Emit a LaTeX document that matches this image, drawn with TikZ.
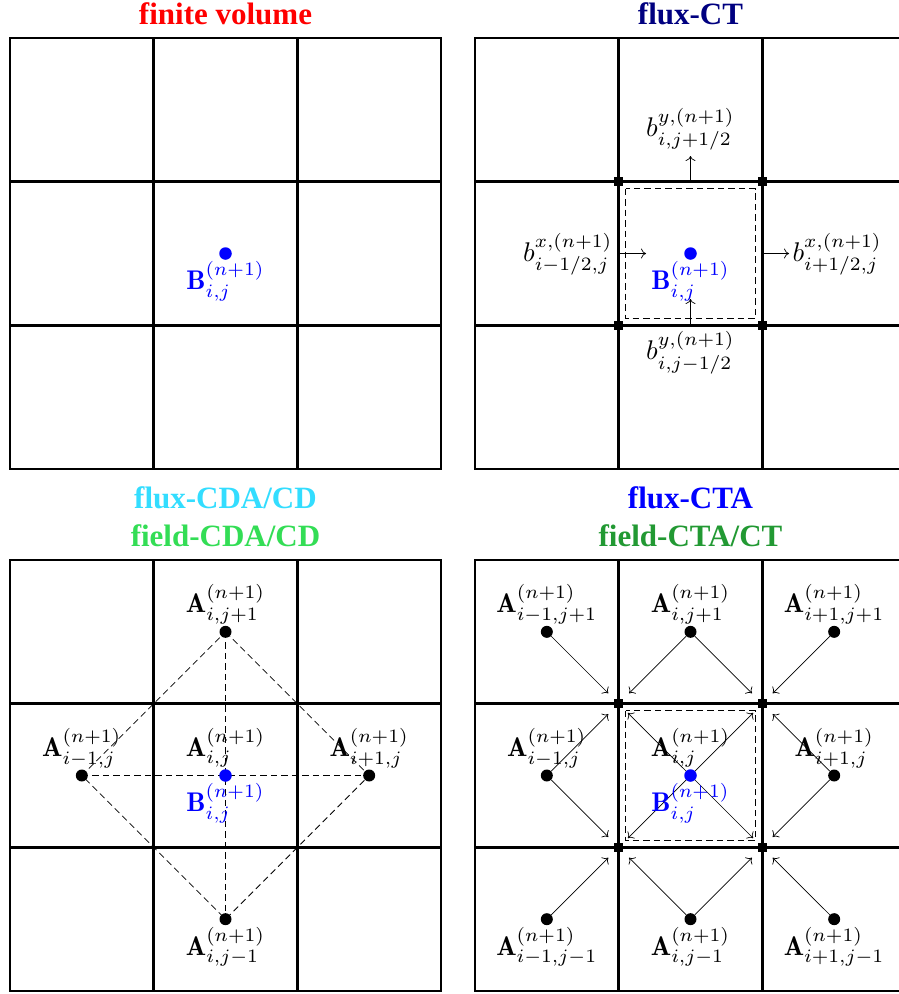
\documentclass[tikz,border=0pt]{standalone}
\usepackage{fontspec}
\newfontfamily\ttlfont{Liberation Serif}
\usetikzlibrary{arrows.meta}
\definecolor{navyc}{HTML}{000080}
\definecolor{cyanc}{HTML}{33DDFF}
\definecolor{lgreen}{HTML}{33DD55}
\definecolor{dgreen}{HTML}{229933}
\newcommand\pgrid[2]{%
  \draw[gridline] (#1,#2) rectangle ++(431,431);
  \foreach \k in {1,2}{%
    \draw[gridline] ({#1+\k*143.67},#2) -- ++(0,431);
    \draw[gridline] (#1,{#2+\k*143.67}) -- ++(431,0);
  }}
\begin{document}
\begin{tikzpicture}[x=1pt,y=-1pt,
  gridline/.style={line width=2.8pt},
  dot/.style={circle,fill=black,inner sep=0pt,minimum size=12pt},
  bdot/.style={circle,fill=blue,inner sep=0pt,minimum size=12.5pt},
  sq/.style={rectangle,fill=black,inner sep=0pt,minimum size=9pt},
  lab/.style={font=\normalsize,inner sep=0.4pt,scale=2.7,transform shape},
  arr/.style={-{To[length=5pt,width=10pt]},line width=0.7pt},
  dsh/.style={line width=0.8pt,dash pattern=on 6.5pt off 4pt},
  ttl/.style={font=\ttlfont\bfseries\fontsize{31}{37}\selectfont,inner sep=0pt,anchor=base}]
\useasboundingbox (0,0) rectangle (899,994);

% titles
\node[ttl,text=red] (t1) at (225.5,24) {finite volume};
\node[ttl,text=navyc] (t2) at (690.5,24) {flux-CT};
\node[ttl,text=cyanc] (t3) at (225.5,508) {flux-CDA/CD};
\node[ttl,text=lgreen] (t4) at (225.5,546) {field-CDA/CD};
\node[ttl,text=blue] (t5) at (690.5,508) {flux-CTA};
\node[ttl,text=dgreen] (t6) at (690.5,546) {field-CTA/CT};

% grids
\pgrid{10}{38}
\pgrid{475}{38}
\pgrid{10}{560}
\pgrid{475}{560}

% ---------- finite volume
\node[bdot] (tlB) at (225.5,253.5) {};
\node[lab,text=blue,anchor=north] (tlBl) at (tlB.south) {$\mathbf{B}^{(n+1)}_{i,j}$};

% ---------- flux-CT
\draw[dsh] (625.7,188.7) rectangle (755.3,318.3);
\node[sq] (trc1) at (618.67,181.67) {};
\node[sq] (trc2) at (762.33,181.67) {};
\node[sq] (trc3) at (618.67,325.33) {};
\node[sq] (trc4) at (762.33,325.33) {};
\node[bdot] (trB) at (690.5,253.5) {};
\node[lab,text=blue,anchor=north] (trBl) at (trB.south) {$\mathbf{B}^{(n+1)}_{i,j}$};
\coordinate (trN) at (690.5,181.67);
\coordinate (trNe) at (690.5,156);
\draw[arr] (trN) -- (trNe);
\node[lab,anchor=south] (trNl) at (690.5,152) {$b^{y,(n+1)}_{i,j+1/2}$};
\coordinate (trW) at (618.67,253.5);
\coordinate (trWe) at (646,253.5);
\draw[arr] (trW) -- (trWe);
\node[lab,anchor=east] (trWl) at (614,254) {$b^{x,(n+1)}_{i-1/2,j}$};
\coordinate (trE) at (762.33,253.5);
\coordinate (trEe) at (789,253.5);
\draw[arr] (trE) -- (trEe);
\node[lab,anchor=west] (trEl) at (791,254) {$b^{x,(n+1)}_{i+1/2,j}$};
\coordinate (trS) at (690.5,325.33);
\coordinate (trSe) at (690.5,299);
\draw[arr] (trS) -- (trSe);
\node[lab,anchor=north] (trSl) at (690.5,330) {$b^{y,(n+1)}_{i,j-1/2}$};

% ---------- flux-CDA / field-CDA
\coordinate (blTc) at (225.5,631.83);
\coordinate (blLc) at (81.83,775.5);
\coordinate (blRc) at (369.17,775.5);
\coordinate (blDc) at (225.5,919.17);
\draw[dsh] (blTc) -- (blRc) -- (blDc) -- (blLc) -- cycle;
\draw[dsh] (blLc) -- (blRc);
\draw[dsh] (blTc) -- (blDc);
\node[dot] (blT) at (blTc) {};
\node[dot] (blL) at (blLc) {};
\node[dot] (blR) at (blRc) {};
\node[dot] (blD) at (blDc) {};
\node[bdot] (blC) at (225.5,775.5) {};
\node[lab,anchor=south] (blTl) at (blT.north) {$\mathbf{A}^{(n+1)}_{i,j+1}$};
\node[lab,anchor=south] (blLl) at (blL.north) {$\mathbf{A}^{(n+1)}_{i-1,j}$};
\node[lab,anchor=south] (blRl) at (blR.north) {$\mathbf{A}^{(n+1)}_{i+1,j}$};
\node[lab,anchor=south] (blCl) at (blC.north) {$\mathbf{A}^{(n+1)}_{i,j}$};
\node[lab,text=blue,anchor=north] (blBl) at (blC.south) {$\mathbf{B}^{(n+1)}_{i,j}$};
\node[lab,anchor=north] (blDl) at (blD.south) {$\mathbf{A}^{(n+1)}_{i,j-1}$};

% ---------- flux-CTA / field-CTA
\draw[dsh] (625.7,710.7) rectangle (755.3,840.3);
\node[sq] (brc1) at (618.67,703.67) {};
\node[sq] (brc2) at (762.33,703.67) {};
\node[sq] (brc3) at (618.67,847.33) {};
\node[sq] (brc4) at (762.33,847.33) {};
\node[dot] (brNW) at (546.83,631.83) {};
\node[dot] (brN)  at (690.5,631.83) {};
\node[dot] (brNE) at (834.17,631.83) {};
\node[dot] (brW)  at (546.83,775.5) {};
\node[dot] (brE)  at (834.17,775.5) {};
\node[dot] (brSW) at (546.83,919.17) {};
\node[dot] (brS)  at (690.5,919.17) {};
\node[dot] (brSE) at (834.17,919.17) {};
\begin{scope}[arr,shorten >=8pt]
\draw (brNW) -- (brc1);
\draw (brN) -- (brc1);
\draw (brN) -- (brc2);
\draw (brNE) -- (brc2);
\draw (brW) -- (brc1);
\draw (brW) -- (brc3);
\draw (brE) -- (brc2);
\draw (brE) -- (brc4);
\draw (brSW) -- (brc3);
\draw (brS) -- (brc3);
\draw (brS) -- (brc4);
\draw (brSE) -- (brc4);
\end{scope}
\coordinate (brCc) at (690.5,775.5);
\begin{scope}[arr,shorten >=6.3pt]
\draw (brCc) -- (brc1);
\draw (brCc) -- (brc2);
\draw (brCc) -- (brc3);
\draw (brCc) -- (brc4);
\end{scope}
\node[bdot] (brC) at (brCc) {};
\node[lab,anchor=south] (brNWl) at (brNW.north) {$\mathbf{A}^{(n+1)}_{i-1,j+1}$};
\node[lab,anchor=south] (brNl) at (brN.north) {$\mathbf{A}^{(n+1)}_{i,j+1}$};
\node[lab,anchor=south] (brNEl) at (brNE.north) {$\mathbf{A}^{(n+1)}_{i+1,j+1}$};
\node[lab,anchor=south] (brWl) at (brW.north) {$\mathbf{A}^{(n+1)}_{i-1,j}$};
\node[lab,anchor=south] (brCl) at (brC.north) {$\mathbf{A}^{(n+1)}_{i,j}$};
\node[lab,anchor=south] (brEl) at (brE.north) {$\mathbf{A}^{(n+1)}_{i+1,j}$};
\node[lab,text=blue,anchor=north] (brBl) at (brC.south) {$\mathbf{B}^{(n+1)}_{i,j}$};
\node[lab,anchor=north] (brSWl) at (brSW.south) {$\mathbf{A}^{(n+1)}_{i-1,j-1}$};
\node[lab,anchor=north] (brSl) at (brS.south) {$\mathbf{A}^{(n+1)}_{i,j-1}$};
\node[lab,anchor=north] (brSEl) at (brSE.south) {$\mathbf{A}^{(n+1)}_{i+1,j-1}$};
\end{tikzpicture}
\end{document}
